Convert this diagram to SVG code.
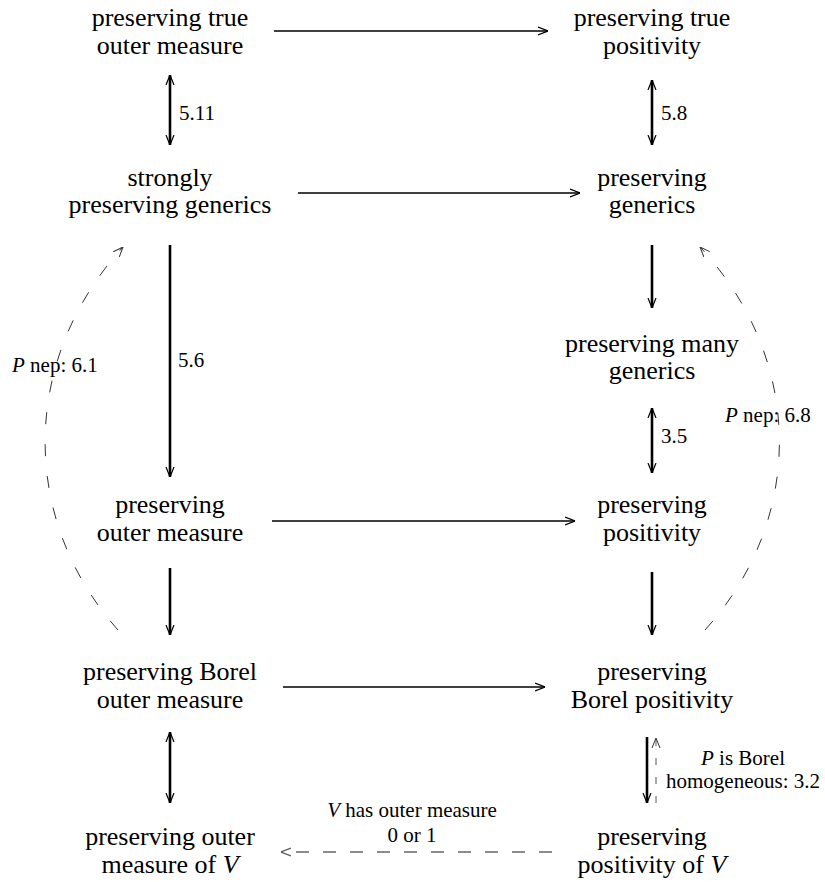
<svg xmlns="http://www.w3.org/2000/svg" width="825" height="882" viewBox="0 0 825 882">
<style>
text{font-family:'Liberation Serif','Times New Roman',Times,serif}
.n{font-size:26px;fill:#000;text-anchor:middle}
.l{font-size:21px;fill:#000}
.c{text-anchor:middle}
.it{font-style:italic}
.th{stroke:#000;stroke-width:2.6;fill:none}
.h{stroke:#000;stroke-width:1.6;fill:none}
.dc{stroke:#333;stroke-width:1;fill:none;stroke-dasharray:12 20}
.dh{stroke:#666;stroke-width:1.6;fill:none;stroke-dasharray:13 14}
.dv{stroke:#555;stroke-width:1;fill:none;stroke-dasharray:7 12}
</style>
<defs>
<marker id="ah" viewBox="0 0 10 10" refX="10" refY="5" markerWidth="10" markerHeight="10" markerUnits="userSpaceOnUse" orient="auto-start-reverse"><path d="M0,1 L10,5 L0,9" fill="none" stroke="#000" stroke-width="1.2"/></marker>
<marker id="ag" viewBox="0 0 10 10" refX="10" refY="5" markerWidth="10" markerHeight="10" markerUnits="userSpaceOnUse" orient="auto-start-reverse"><path d="M0,1 L10,5 L0,9" fill="none" stroke="#333" stroke-width="1"/></marker>
<marker id="agl" viewBox="0 0 10 10" refX="10" refY="5" markerWidth="10" markerHeight="10" markerUnits="userSpaceOnUse" orient="auto-start-reverse"><path d="M0,1 L10,5 L0,9" fill="none" stroke="#555" stroke-width="1.3"/></marker>
</defs>
<g id="connectors" font-family="Liberation Serif, serif">
<line class="h" x1="274" y1="31" x2="548" y2="31" marker-end="url(#ah)"/>
<line class="h" x1="298" y1="193" x2="580" y2="193" marker-end="url(#ah)"/>
<line class="h" x1="272" y1="521" x2="575" y2="521" marker-end="url(#ah)"/>
<line class="h" x1="283" y1="687" x2="545" y2="687" marker-end="url(#ah)"/>
<line class="dh" x1="552" y1="852" x2="281" y2="852" marker-end="url(#agl)"/>
<line class="th" x1="170" y1="75" x2="170" y2="145" marker-start="url(#ah)" marker-end="url(#ah)"/>
<line class="th" x1="652" y1="80" x2="652" y2="145" marker-start="url(#ah)" marker-end="url(#ah)"/>
<line class="th" x1="170" y1="245" x2="170" y2="477" marker-end="url(#ah)"/>
<line class="th" x1="652" y1="245" x2="652" y2="308" marker-end="url(#ah)"/>
<line class="th" x1="652" y1="408" x2="652" y2="473" marker-start="url(#ah)" marker-end="url(#ah)"/>
<line class="th" x1="170" y1="568" x2="170" y2="635" marker-end="url(#ah)"/>
<line class="th" x1="652" y1="572" x2="652" y2="635" marker-end="url(#ah)"/>
<line class="th" x1="170" y1="732" x2="170" y2="803" marker-start="url(#ah)" marker-end="url(#ah)"/>
<line class="th" x1="647" y1="737" x2="647" y2="803" marker-end="url(#ah)"/>
<line class="dv" x1="656" y1="803" x2="656" y2="738" marker-end="url(#ag)"/>
<path class="dc" d="M118,630 C20,520 20,360 123,247" marker-end="url(#ag)"/>
<path class="dc" d="M705,630 C805,520 805,360 700,247" marker-end="url(#ag)"/>
<text class="l" x="179" y="120">5.11</text>
<text class="l" x="661" y="120">5.8</text>
<text class="l" x="178" y="367">5.6</text>
<text class="l" x="661" y="443">3.5</text>
<text class="l" x="12" y="372"><tspan class="it">P</tspan> nep: 6.1</text>
<text class="l" x="725" y="422"><tspan class="it">P</tspan> nep: 6.8</text>
<text class="l c" x="743" y="765"><tspan class="it">P</tspan> is Borel</text>
<text class="l c" x="743" y="788">homogeneous: 3.2</text>
<text class="l c" x="412" y="817"><tspan class="it">V</tspan> has outer measure</text>
<text class="l c" x="412" y="842">0 or 1</text>
</g>
<g id="n1"><text class="n" x="170" y="26">preserving true</text><text class="n" x="170" y="54">outer measure</text></g>
<g id="n2"><text class="n" x="652" y="26">preserving true</text><text class="n" x="652" y="54">positivity</text></g>
<g id="n3"><text class="n" x="170" y="186">strongly</text><text class="n" x="170" y="213">preserving generics</text></g>
<g id="n4"><text class="n" x="652" y="186">preserving</text><text class="n" x="652" y="213">generics</text></g>
<g id="n5"><text class="n" x="652" y="352">preserving many</text><text class="n" x="652" y="379">generics</text></g>
<g id="n6"><text class="n" x="170" y="513">preserving</text><text class="n" x="170" y="541">outer measure</text></g>
<g id="n7"><text class="n" x="652" y="513">preserving</text><text class="n" x="652" y="541">positivity</text></g>
<g id="n8"><text class="n" x="170" y="680">preserving Borel</text><text class="n" x="170" y="708">outer measure</text></g>
<g id="n9"><text class="n" x="652" y="680">preserving</text><text class="n" x="652" y="708">Borel positivity</text></g>
<g id="n10"><text class="n" x="170" y="845">preserving outer</text><text class="n" x="170" y="873">measure of <tspan class="it">V</tspan></text></g>
<g id="n11"><text class="n" x="652" y="845">preserving</text><text class="n" x="652" y="873">positivity of <tspan class="it">V</tspan></text></g>
</svg>
